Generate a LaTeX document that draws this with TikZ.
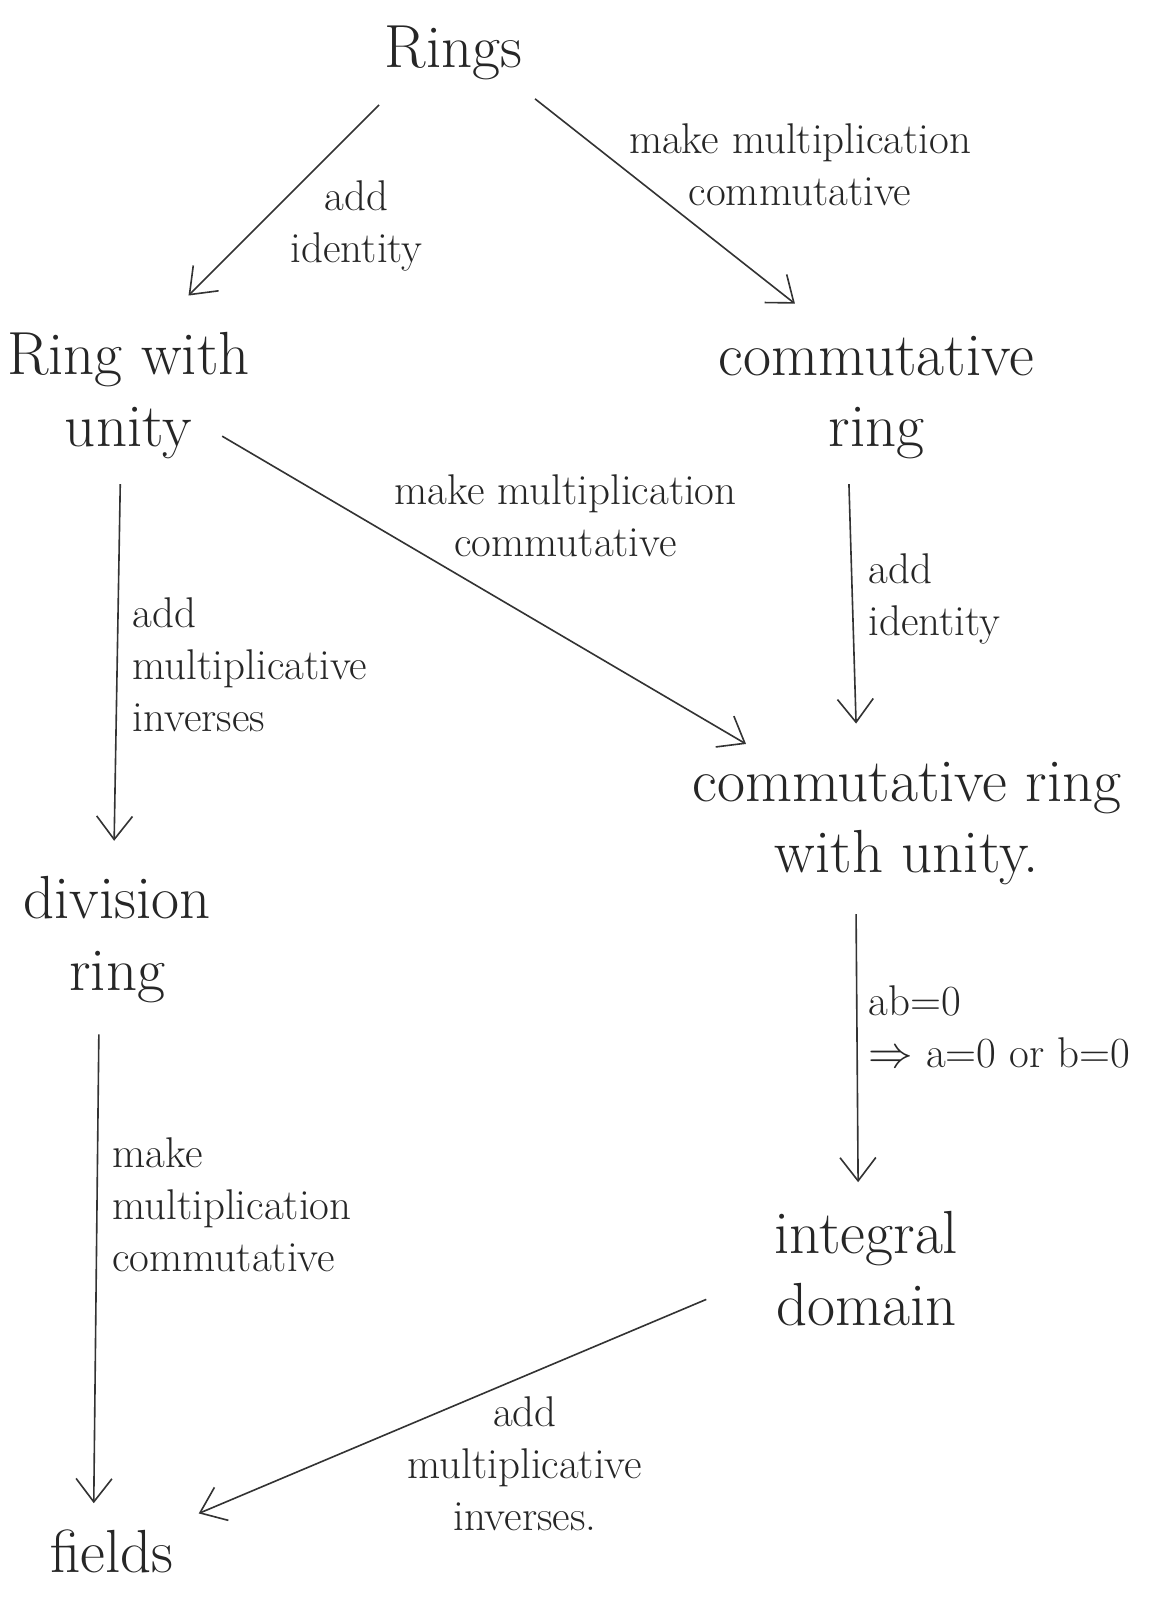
\documentclass[tikz,border=0pt]{standalone}
\usepackage{amsmath}
\usetikzlibrary{arrows.meta}
\begin{document}
\begin{tikzpicture}[x=0.02cm,y=-0.02cm,
  every node/.style={align=center,text=black!85},
  obj/.style={font=\fontsize{34}{40}\selectfont,inner sep=6pt},
  lbl/.style={font=\fontsize{24}{29}\selectfont,inner sep=0pt},
  arr/.style={draw=black!80,line width=0.9pt,-{Straight Barb[length=13pt,width=20pt]}}]
  \useasboundingbox (0,0) rectangle (1136,1568);

  % the structures
  \node[obj] (rings) at (445,52) {Rings};
  \node[obj] (rwu) at (126,388) {Ring with\\unity};
  \node[obj] (cring) at (860,390) {commutative\\ring};
  \node[obj] (cru) at (890,808) {commutative ring\\with unity.};
  \node[obj] (divring) at (115,922) {division\\ring};
  \node[obj] (intdom) at (850,1245) {integral\\domain};
  \node[obj] (fields) at (110,1522) {fields};

  % the steps
  \draw[arr] ([shift={(-73,51)}]rings.center) -- ([shift={(59,-98)}]rwu.center);
  \draw[arr] ([shift={(80,45)}]rings.center) -- ([shift={(-80,-92)}]cring.center);
  \draw[arr] ([shift={(92,40)}]rwu.center) -- ([shift={(-158,-78)}]cru.center);
  \draw[arr] ([shift={(-8,87)}]rwu.center) -- ([shift={(-3,-97)}]divring.center);
  \draw[arr] ([shift={(-27,85)}]cring.center) -- ([shift={(-50,-98)}]cru.center);
  \draw[arr] ([shift={(-50,89)}]cru.center) -- ([shift={(-8,-85)}]intdom.center);
  \draw[arr] ([shift={(-18,93)}]divring.center) -- ([shift={(-18,-47)}]fields.center);
  \draw[arr] ([shift={(-157,30)}]intdom.center) -- ([shift={(85,-37)}]fields.center);

  % what each step adds
  \node[lbl] (l1) at (350,222) {add\\identity};
  \node[lbl] (l2) at (785,162) {make multiplication\\commutative};
  \node[lbl] (l3) at (555,506) {make multiplication\\commutative};
  \node[lbl,align=left,anchor=west] (l4) at (130,652) {add\\multiplicative\\inverses};
  \node[lbl,align=left,anchor=west] (l5) at (852,588) {add\\identity};
  \node[lbl,align=left,anchor=west] (l6) at (852,1008) {ab=0\\$\Rightarrow$ a=0 or b=0};
  \node[lbl,align=left,anchor=west] (l7) at (110,1182) {make\\multiplication\\commutative};
  \node[lbl] (l8) at (515,1436) {add\\multiplicative\\inverses.};
\end{tikzpicture}
\end{document}
